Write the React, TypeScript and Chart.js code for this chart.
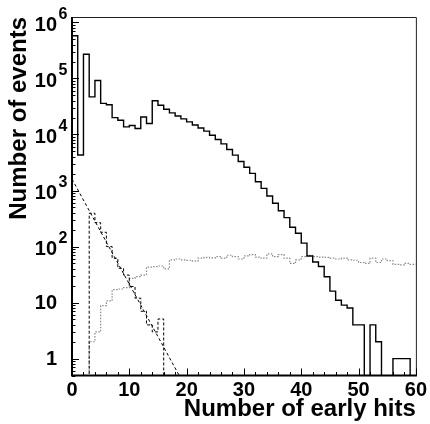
import React, { useEffect, useRef } from 'react';
import { Chart, registerables } from 'chart.js';

Chart.register(...registerables);

// ---- data ----
const binWidth = 1;
const solidCounts = [
  580000, 4300, 270000, 47000, 92000, 36000, 34000, 20000, 18000, 13700,
  14500, 12800, 20500, 15700, 40000, 33300, 28200, 24300, 21400, 19000,
  16800, 14800, 13100, 11500, 9700, 8150, 6800, 5400, 4280, 3300,
  2600, 2020, 1435, 1094, 798, 592, 437, 328, 221, 173,
  115, 68, 53, 44, 29, 16, 11, 9, 8, 4,
  4, 0, 4, 2, 0, 0, 1, 1, 1, 0,
];
const dottedCounts = [
  0, 0, 0, 2, 3, 8.8, 10.7, 17, 17.5, 18.5,
  27, 29, 31, 43, 44, 45, 40, 58, 60, 58,
  57, 55, 62, 64, 63, 66, 62, 70, 66, 60,
  68, 72, 65, 62, 74, 66, 72, 62, 50, 58,
  66, 70, 66, 65, 64, 62, 60, 62, 58, 57,
  52, 50, 62, 52, 60, 56, 48, 47, 50, 48,
];
const dashedCounts = [
  0, 0, 0, 393, 267, 180, 100, 62, 41, 31,
  19.4, 12, 7, 4, 3, 5.1, 0, 0, 0, 0,
  0, 0, 0, 0, 0, 0, 0, 0, 0, 0,
  0, 0, 0, 0, 0, 0, 0, 0, 0, 0,
  0, 0, 0, 0, 0, 0, 0, 0, 0, 0,
  0, 0, 0, 0, 0, 0, 0, 0, 0, 0,
];
const fitLineX = [0, 18.7];
const fitLineY = [1600, 0.5];

const xMin = 0;
const xMax = 60;
const yMin = 0.5;
const yMax = 1.25e6;
const xLabelTicks = [0, 10, 20, 30, 40, 50, 60];
const xMinorTicks = [0, 2, 4, 6, 8, 10, 12, 14, 16, 18, 20, 22, 24, 26, 28, 30, 32, 34, 36, 38, 40, 42, 44, 46, 48, 50, 52, 54, 56, 58, 60];
const yDecades = [1, 10, 100, 1000, 10000, 100000, 1000000];
const yLabelBase = ['1', '10', '10', '10', '10', '10', '10'];
const yLabelExp = ['', '', '2', '3', '4', '5', '6'];
const yMinorMultipliers = [1, 2, 3, 4, 5, 6, 7, 8, 9];
const yBelowOneTicks = [0.5, 0.6, 0.7, 0.8, 0.9];
const xTitle = 'Number of early hits';
const yTitle = 'Number of events';

const FONT = '"Liberation Sans", Arial, sans-serif';

function histPoints(counts: number[]) {
  const pts = counts.map((c, i) => ({ x: i * binWidth, y: c > 0 ? c : yMin * 0.1 }));
  pts.push({ x: counts.length * binWidth, y: pts[pts.length - 1].y });
  return pts;
}

const framePlugin = {
  id: 'rootFrame',
  afterDatasetsDraw(chart: any) {
    const { ctx, chartArea } = chart;
    const { left, right, top, bottom } = chartArea;
    const xs = chart.scales.x;
    const ys = chart.scales.y;
    ctx.save();
    // frame top/right
    ctx.strokeStyle = '#222';
    ctx.lineWidth = 1;
    ctx.beginPath();
    ctx.moveTo(left, top + 0.5);
    ctx.lineTo(right + 0.5, top + 0.5);
    ctx.lineTo(right + 0.5, bottom);
    ctx.stroke();
    // axes left/bottom
    ctx.strokeStyle = '#000';
    ctx.lineWidth = 2;
    ctx.beginPath();
    ctx.moveTo(left, top);
    ctx.lineTo(left, bottom);
    ctx.lineTo(right + 1, bottom);
    ctx.stroke();
    // x tick marks
    ctx.lineWidth = 1;
    ctx.beginPath();
    xMinorTicks.forEach((v) => {
      const px = Math.round(xs.getPixelForValue(v)) + 0.5;
      const len = xLabelTicks.includes(v) ? 7 : 3.5;
      ctx.moveTo(px, bottom);
      ctx.lineTo(px, bottom - len);
    });
    // y tick marks
    yDecades.forEach((d) => {
      yMinorMultipliers.forEach((m) => {
        const v = d * m;
        if (v < yMin || v > yMax) return;
        const py = Math.round(ys.getPixelForValue(v)) + 0.5;
        const len = m === 1 ? 7 : 3.5;
        ctx.moveTo(left, py);
        ctx.lineTo(left + len, py);
      });
    });
    yBelowOneTicks.forEach((v) => {
      if (v < yMin) return;
      const py = Math.round(ys.getPixelForValue(v)) + 0.5;
      ctx.moveTo(left, py);
      ctx.lineTo(left + 3.5, py);
    });
    ctx.stroke();
    // y labels with superscript exponent
    ctx.fillStyle = '#000';
    yDecades.forEach((d, i) => {
      const py = ys.getPixelForValue(d);
      const baseRight = left - 15;
      const hasExp = yLabelExp[i] !== '';
      ctx.font = `bold 20px ${FONT}`;
      ctx.textAlign = 'right';
      ctx.textBaseline = 'middle';
      ctx.fillText(yLabelBase[i], baseRight, py + (hasExp ? 3 : 1));
      if (hasExp) {
        ctx.font = `bold 16px ${FONT}`;
        ctx.textAlign = 'left';
        ctx.fillText(yLabelExp[i], baseRight + 1.5, py - 8);
      }
    });
    ctx.restore();
  },
};

export default function App() {
  const ref = useRef<HTMLCanvasElement | null>(null);
  useEffect(() => {
    if (!ref.current) return;
    const chart = new Chart(ref.current, {
      type: 'line',
      data: {
        datasets: [
          {
            label: 'all',
            data: histPoints(solidCounts),
            borderColor: '#000',
            borderWidth: 1.4,
            stepped: 'before',
            pointRadius: 0,
            fill: false,
          },
          {
            label: 'fit',
            data: fitLineX.map((x, i) => ({ x, y: fitLineY[i] })),
            borderColor: '#000',
            borderWidth: 1,
            borderDash: [3, 2.5],
            pointRadius: 0,
            fill: false,
          },
          {
            label: 'dashed',
            data: histPoints(dashedCounts),
            borderColor: '#000',
            borderWidth: 1,
            borderDash: [3, 2],
            stepped: 'before',
            pointRadius: 0,
            fill: false,
          },
          {
            label: 'dotted',
            data: histPoints(dottedCounts),
            borderColor: '#8a8a8a',
            borderWidth: 1.2,
            borderDash: [1.5, 1.5],
            stepped: 'before',
            pointRadius: 0,
            fill: false,
          },
        ],
      },
      options: {
        animation: false,
        responsive: false,
        events: [],
        layout: { padding: { top: 17, right: 13, left: 0, bottom: 0 } },
        plugins: { legend: { display: false }, tooltip: { enabled: false } },
        scales: {
          x: {
            type: 'linear',
            min: xMin,
            max: xMax,
            grid: { display: false, drawTicks: false },
            border: { display: false },
            afterBuildTicks: (s: any) => {
              s.ticks = xLabelTicks.map((v) => ({ value: v }));
            },
            afterFit: (s: any) => {
              s.height = 48.5;
            },
            ticks: {
              color: '#000',
              font: { family: FONT, weight: 'bold', size: 20 },
              padding: 3,
              maxRotation: 0,
              autoSkip: false,
            },
            title: {
              display: true,
              text: xTitle,
              align: 'end',
              color: '#000',
              font: { family: FONT, weight: 'bold', size: 24 },
              padding: { top: 0, bottom: 0 },
            },
          },
          y: {
            type: 'logarithmic',
            min: yMin,
            max: yMax,
            grid: { display: false, drawTicks: false },
            border: { display: false },
            afterBuildTicks: (s: any) => {
              s.ticks = yDecades.map((v) => ({ value: v }));
            },
            afterFit: (s: any) => {
              s.width = 72;
            },
            ticks: { display: false },
            title: {
              display: true,
              text: yTitle,
              align: 'end',
              color: '#000',
              font: { family: FONT, weight: 'bold', size: 24 },
              padding: { top: 5, bottom: 0 },
            },
          },
        },
      } as any,
      plugins: [framePlugin],
    });
    return () => chart.destroy();
  }, []);
  return (
    <div style={{ position: 'absolute', left: 0, top: 0, width: 430, height: 424, background: '#fff' }}>
      <canvas ref={ref} width={430} height={424} />
    </div>
  );
}
